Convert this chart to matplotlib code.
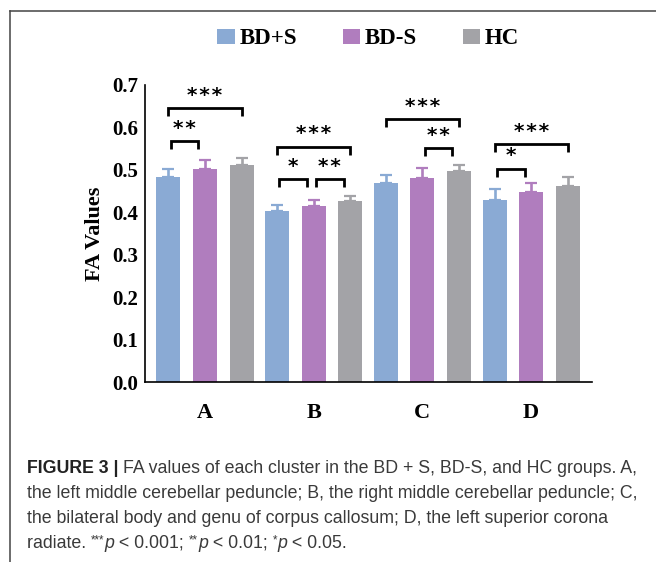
import matplotlib
matplotlib.use("Agg")
import matplotlib.pyplot as plt
from matplotlib.lines import Line2D
import numpy as np

# ---------------- data ----------------
clusters = ["A", "B", "C", "D"]
groups = ["BD+S", "BD-S", "HC"]
bd_plus_s = [0.484, 0.402, 0.469, 0.428]
bd_minus_s = [0.503, 0.414, 0.480, 0.448]
hc = [0.511, 0.427, 0.497, 0.461]
err_bd_plus_s = [0.017, 0.016, 0.018, 0.027]
err_bd_minus_s = [0.021, 0.016, 0.024, 0.021]
err_hc = [0.016, 0.011, 0.014, 0.022]
y_ticks = [0.0, 0.1, 0.2, 0.3, 0.4, 0.5, 0.6, 0.7]

# significance brackets: (cluster index, bar i, bar j, bracket height, label)
sig_cluster = [0, 0, 1, 1, 1, 2, 2, 3, 3]
sig_bar_i = [0, 0, 0, 0, 1, 0, 1, 0, 0]
sig_bar_j = [1, 2, 2, 1, 2, 2, 2, 2, 1]
sig_height = [0.567, 0.645, 0.555, 0.478, 0.478, 0.620, 0.551, 0.561, 0.503]
sig_label = ["**", "***", "***", "*", "**", "***", "**", "***", "*"]

caption_lines = [
    [("FIGURE 3 | ", "bold"), ("FA values of each cluster in the BD + S, BD-S, and HC groups. A,", "normal")],
    [("the left middle cerebellar peduncle; B, the right middle cerebellar peduncle; C,", "normal")],
    [("the bilateral body and genu of corpus callosum; D, the left superior corona", "normal")],
    [("radiate. ", "normal"), ("***", "sup"), ("p", "italic"), (" < 0.001; ", "normal"),
     ("**", "sup"), ("p", "italic"), (" < 0.01; ", "normal"),
     ("*", "sup"), ("p", "italic"), (" < 0.05.", "normal")],
]

colors = ["#8AAAD4", "#B07DBE", "#A3A3A7"]

W, H = 656, 562
fig = plt.figure(figsize=(W / 100, H / 100), dpi=100)
ax = fig.add_axes([145 / W, 1 - 382 / H, (592 - 145) / W, (382 - 85) / H])

x = np.arange(len(clusters))
step = 0.336
width = 0.221
series = [bd_plus_s, bd_minus_s, hc]
errs = [err_bd_plus_s, err_bd_minus_s, err_hc]
bar_handles = []
for k, (vals, e, c, name) in enumerate(zip(series, errs, colors, groups)):
    pos = x + (k - 1) * step
    b = ax.bar(pos, vals, width, color=c, label=name, zorder=2)
    bar_handles.append(b)
    ax.errorbar(pos, vals, yerr=[np.zeros(len(vals)), e], fmt="none",
                ecolor=c, elinewidth=1.9, capsize=4.2, capthick=1.6, zorder=1)

ax.set_xlim(-0.552, 3.56)
ax.set_ylim(0, 0.7)
ax.set_yticks(y_ticks)
ax.set_yticklabels([f"{v:.1f}" for v in y_ticks], fontfamily="Liberation Serif",
                   fontweight="bold", fontsize=15)
ax.set_xticks(x)
ax.set_xticklabels(clusters, fontfamily="Liberation Serif", fontweight="bold", fontsize=16)
ax.tick_params(axis="both", length=0)
ax.tick_params(axis="y", pad=5)
ax.tick_params(axis="x", pad=15)
for s in ["top", "right"]:
    ax.spines[s].set_visible(False)
for s in ["left", "bottom"]:
    ax.spines[s].set_linewidth(1.2)
    ax.spines[s].set_color("black")
ax.set_ylabel("FA Values", fontfamily="Liberation Serif", fontweight="bold", fontsize=16,
              labelpad=5)

# significance brackets
leg = 0.019
for g, i, j, h, lab in zip(sig_cluster, sig_bar_i, sig_bar_j, sig_height, sig_label):
    x0 = g + (i - 1) * step
    x1 = g + (j - 1) * step
    if j - i == 1:
        x0 += 0.02
        x1 -= 0.06
    ax.text((x0 + x1) / 2, h + 0.017, "\u200a".join(lab), ha="center",
            va="baseline", fontfamily="DejaVu Sans", fontweight="bold", fontsize=14.5,
            clip_on=False)
    ax.plot([x0, x0, x1, x1], [h - leg, h, h, h - leg], color="black", lw=2.0,
            solid_capstyle="butt", solid_joinstyle="miter", clip_on=False, zorder=3)

# legend
fig.legend(handles=bar_handles, labels=groups, loc="center",
           bbox_to_anchor=(368 / W, 1 - 39 / H), ncol=3, frameon=False,
           prop={"family": "Liberation Serif", "weight": "bold", "size": 16.5},
           handlelength=0.75, handleheight=0.62, handletextpad=0.2,
           columnspacing=2.0, borderaxespad=0, borderpad=0)

# frame
fig.add_artist(Line2D([10 / W, 1.0], [1 - 10.5 / H, 1 - 10.5 / H], transform=fig.transFigure,
                      color="#444444", lw=1.1))
fig.add_artist(Line2D([10 / W, 10 / W], [1 - 10.5 / H, 0.0], transform=fig.transFigure,
                      color="#444444", lw=1.1))

# caption
fig.canvas.draw()
renderer = fig.canvas.get_renderer()
cap_size = 12.8
baselines = [473, 498, 523, 548]
for line, yb in zip(caption_lines, baselines):
    xp = 27.0
    for s, style in line:
        kw = dict(fontfamily="Liberation Sans", fontsize=cap_size, color="#3a3a3a",
                  va="baseline", ha="left")
        yy = yb
        if style == "bold":
            kw["fontweight"] = "bold"
            kw["color"] = "#222222"
        elif style == "italic":
            kw["fontstyle"] = "italic"
        elif style == "sup":
            kw["fontsize"] = cap_size * 0.65
            yy = yb - 5
        t = fig.text(xp / W, 1 - yy / H, s, **kw)
        bb = t.get_window_extent(renderer)
        xp += bb.width

fig.savefig("out.png", dpi=100)
